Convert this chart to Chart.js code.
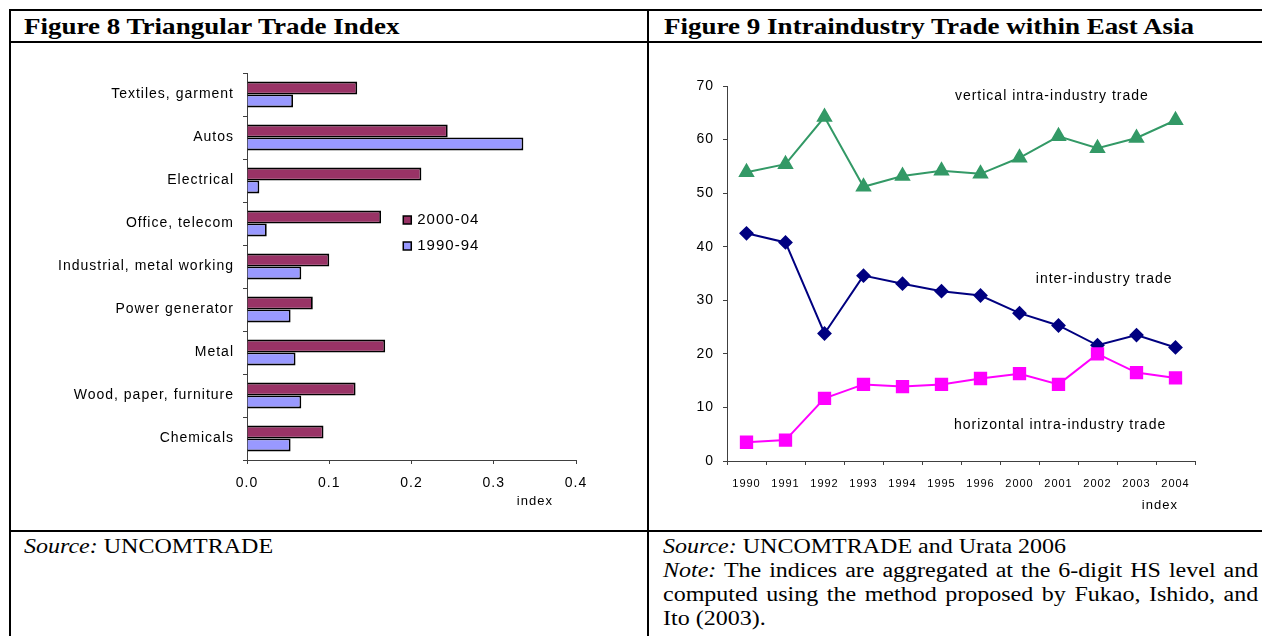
<!DOCTYPE html>
<html>
<head>
<meta charset="utf-8">
<script src="https://cdn.jsdelivr.net/npm/chart.js@4.4.1/dist/chart.umd.min.js"></script>
<style>
  body { margin: 0; background: #fff; width: 1262px; height: 636px; overflow: hidden; position: relative;
         font-family: 'Liberation Serif', 'Times New Roman', serif; color: #000; }
  .ln { position: absolute; background: #000; }
  .title { position: absolute; top: 14px; font-size: 23px; line-height: 26px; font-weight: bold; white-space: nowrap;
           transform: scaleX(1.175); transform-origin: 0 0; }
  .box { position: absolute; }
  .txt { position: absolute; font-size: 20px; line-height: 24px; transform: scaleX(1.2); transform-origin: 0 0; }
  .txt div { height: 24px; white-space: nowrap; }
  .txt .full { text-align: justify; text-align-last: justify; }
  .txt i { font-style: italic; }
</style>
</head>
<body>
<div class="ln" style="left:9px; top:9px; width:1253px; height:2px"></div>
<div class="ln" style="left:9px; top:41px; width:1253px; height:2px"></div>
<div class="ln" style="left:9px; top:530px; width:1253px; height:2px"></div>
<div class="ln" style="left:9px; top:9px; width:2px; height:627px"></div>
<div class="ln" style="left:647px; top:9px; width:2px; height:627px"></div>

<div class="title" style="left:24px">Figure 8 Triangular Trade Index</div>
<div class="title" style="left:664px">Figure 9 Intraindustry Trade within East Asia</div>

<div class="box" style="left:11px; top:43px; width:636px; height:487px"><canvas id="barChart" width="636" height="487"></canvas></div>
<div class="box" style="left:649px; top:43px; width:613px; height:487px"><canvas id="lineChart" width="613" height="487"></canvas></div>

<div class="txt" style="left:24px; top:534px"><div><i>Source:</i> UNCOMTRADE</div></div>
<div class="txt" style="left:663px; top:534px; width:496px">
  <div><i>Source:</i> UNCOMTRADE and Urata 2006</div>
  <div class="full"><i>Note:</i> The indices are aggregated at the 6-digit HS level and</div>
  <div class="full">computed using the method proposed by Fukao, Ishido, and</div>
  <div>Ito (2003).</div>
</div>

<script>
  // Figure 8 data
  const sectors = ['Textiles, garment', 'Autos', 'Electrical', 'Office, telecom', 'Industrial, metal working',
                   'Power generator', 'Metal', 'Wood, paper, furniture', 'Chemicals'];
  const period2000 = [0.134, 0.244, 0.212, 0.163, 0.100, 0.080, 0.168, 0.132, 0.093];
  const period1990 = [0.056, 0.336, 0.015, 0.024, 0.066, 0.053, 0.059, 0.066, 0.053];
  const indexTicks = ['0.0', '0.1', '0.2', '0.3', '0.4'];

  // Figure 9 data
  const years = ['1990', '1991', '1992', '1993', '1994', '1995', '1996', '2000', '2001', '2002', '2003', '2004'];
  const verticalIIT = [53.9, 55.4, 64.2, 51.2, 53.2, 54.2, 53.6, 56.6, 60.6, 58.4, 60.3, 63.6];
  const interIndustry = [42.5, 40.8, 23.8, 34.6, 33.1, 31.7, 30.9, 27.6, 25.3, 21.6, 23.5, 21.2];
  const horizontalIIT = [3.5, 3.9, 11.7, 14.3, 13.9, 14.3, 15.4, 16.3, 14.3, 20.0, 16.5, 15.5];

  const SANS = "'Liberation Sans', Arial, sans-serif";
  const AXIS = '#404040';

  // the source chart text is set wide, so space the letters out a little
  const wideText = {
    id: 'wideText',
    beforeUpdate(chart) { chart.ctx.letterSpacing = '1px'; },
    beforeDraw(chart) { chart.ctx.letterSpacing = '1px'; }
  };

  const barExtras = {
    id: 'barExtras',
    afterDraw(chart) {
      const ctx = chart.ctx;
      const x = chart.scales.x;
      const top = chart.chartArea.top;
      ctx.save();
      ctx.font = '15px ' + SANS;
      ctx.textBaseline = 'middle';
      // legend
      const lx = x.getPixelForValue(0.19);
      chart.data.datasets.forEach((ds, i) => {
        const ly = top + 147 + i * 26;
        ctx.fillStyle = ds.backgroundColor;
        ctx.fillRect(lx, ly - 4, 8, 8);
        ctx.strokeStyle = '#000';
        ctx.lineWidth = 1.5;
        ctx.strokeRect(lx, ly - 4, 8, 8);
        ctx.fillStyle = '#000';
        ctx.textAlign = 'left';
        ctx.fillText(ds.label, lx + 14, ly);
      });
      ctx.textAlign = 'center';
      ctx.font = '13px ' + SANS;
      ctx.fillText('index', x.getPixelForValue(0.35), chart.chartArea.bottom + 41);
      ctx.restore();
    }
  };

  new Chart(document.getElementById('barChart'), {
    type: 'bar',
    data: {
      labels: sectors,
      datasets: [
        { label: '2000-04', data: period2000, backgroundColor: '#993366', borderColor: '#000', borderWidth: 1.8 },
        { label: '1990-94', data: period1990, backgroundColor: '#9999ff', borderColor: '#000', borderWidth: 1.8 }
      ]
    },
    options: {
      indexAxis: 'y',
      responsive: false,
      animation: false,
      categoryPercentage: 0.6,
      barPercentage: 1,
      layout: { padding: { top: 30, right: 71, bottom: 40, left: 0 } },
      plugins: { legend: { display: false }, tooltip: { enabled: false } },
      scales: {
        x: {
          min: 0, max: 0.4,
          afterFit: s => { s.height = 30; },
          ticks: { stepSize: 0.1, padding: 11, color: '#000', font: { family: SANS, size: 14 },
                   callback: (v, i) => indexTicks[i] },
          grid: { drawOnChartArea: false, tickLength: 4, color: AXIS },
          border: { color: AXIS }
        },
        y: {
          afterFit: s => { s.width = 236; },
          ticks: { padding: 9, color: '#000', font: { family: SANS, size: 14 } },
          grid: { drawOnChartArea: false, tickLength: 4, color: AXIS, offset: true },
          border: { color: AXIS }
        }
      }
    },
    plugins: [wideText, barExtras]
  });

  const lineExtras = {
    id: 'lineExtras',
    afterDraw(chart) {
      const ctx = chart.ctx;
      const x = chart.scales.x, y = chart.scales.y;
      const notes = [
        ['vertical intra-industry trade', 7.83, 68.2],
        ['inter-industry trade', 9.17, 33.9],
        ['horizontal intra-industry trade', 8.04, 6.7]
      ];
      ctx.save();
      ctx.font = '14px ' + SANS;
      ctx.fillStyle = '#000';
      ctx.textAlign = 'center';
      ctx.textBaseline = 'middle';
      notes.forEach(n => ctx.fillText(n[0], x.getPixelForValue(n[1]), y.getPixelForValue(n[2])));
      ctx.font = '13px ' + SANS;
      ctx.fillText('index', x.getPixelForValue(10.6), chart.chartArea.bottom + 44);
      ctx.restore();
    }
  };

  new Chart(document.getElementById('lineChart'), {
    type: 'line',
    data: {
      labels: years,
      datasets: [
        { label: 'horizontal intra-industry trade', data: horizontalIIT, borderColor: '#ff00ff', backgroundColor: '#ff00ff',
          pointStyle: 'rect', pointRadius: 8, borderWidth: 2 },
        { label: 'inter-industry trade', data: interIndustry, borderColor: '#000080', backgroundColor: '#000080',
          pointStyle: 'rectRot', pointRadius: 6, borderWidth: 2 },
        { label: 'vertical intra-industry trade', data: verticalIIT, borderColor: '#339966', backgroundColor: '#339966',
          pointStyle: 'triangle', pointRadius: 7.5, borderWidth: 2 }
      ]
    },
    options: {
      responsive: false,
      animation: false,
      elements: { line: { tension: 0 }, point: { borderWidth: 0 } },
      layout: { padding: { top: 43, right: 67, bottom: 39, left: 0 } },
      plugins: { legend: { display: false }, tooltip: { enabled: false } },
      scales: {
        x: {
          offset: true,
          afterFit: s => { s.height = 30; },
          ticks: { padding: 12, color: '#000', maxRotation: 0, autoSkip: false, font: { family: SANS, size: 11 } },
          grid: { drawOnChartArea: false, tickLength: 4, color: AXIS, offset: true },
          border: { color: AXIS }
        },
        y: {
          min: 0, max: 70,
          afterFit: s => { s.width = 78; },
          ticks: { stepSize: 10, padding: 9, color: '#000', font: { family: SANS, size: 14 } },
          grid: { drawOnChartArea: false, tickLength: 4, color: AXIS },
          border: { color: AXIS }
        }
      }
    },
    plugins: [wideText, lineExtras]
  });
</script>
</body>
</html>
